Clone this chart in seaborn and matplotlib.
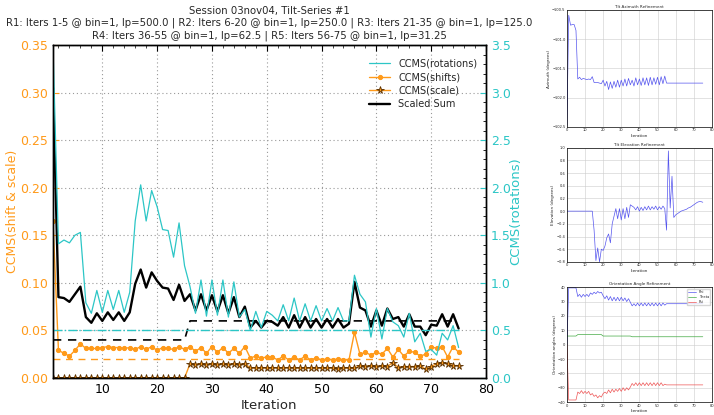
import numpy as np
import pandas as pd
import matplotlib
matplotlib.use("Agg")
import matplotlib.pyplot as plt
import seaborn as sns
from matplotlib.ticker import MultipleLocator

sns.set_style("white")
plt.rcParams['font.family'] = ['DejaVu Sans']
plt.rcParams['xtick.direction'] = 'in'
plt.rcParams['ytick.direction'] = 'in'

# ---- main chart data (iterations 1..75) ----
iterations = list(range(1, 76))

ccms_rot = [3.48, 1.41, 1.45, 1.42, 1.50, 1.53, 0.79, 0.68, 0.92, 0.69,
            0.92, 0.72, 0.92, 0.69, 0.90, 1.65, 2.03, 1.65, 1.97, 1.80,
            1.56, 1.55, 1.27, 1.63, 1.18, 0.96, 0.68, 1.03, 0.65, 1.03,
            0.66, 1.03, 0.64, 1.01, 0.64, 0.72, 0.50, 0.70, 0.53, 0.70,
            0.66, 0.60, 0.77, 0.60, 0.84, 0.60, 0.78, 0.60, 0.76, 0.60,
            0.73, 0.60, 0.74, 0.60, 0.60, 1.08, 0.88, 0.80, 0.43, 0.73,
            0.41, 0.73, 0.59, 0.55, 0.43, 0.68, 0.38, 0.47, 0.28, 0.30,
            0.24, 0.47, 0.40, 0.55, 0.32]

ccms_shift = [0.165, 0.029, 0.026, 0.023, 0.029, 0.036, 0.031, 0.031, 0.031, 0.032,
              0.033, 0.032, 0.032, 0.031, 0.032, 0.030, 0.033, 0.030, 0.033, 0.029,
              0.032, 0.031, 0.030, 0.033, 0.030, 0.033, 0.028, 0.032, 0.026, 0.033,
              0.027, 0.032, 0.026, 0.031, 0.026, 0.033, 0.021, 0.023, 0.021, 0.022,
              0.022, 0.019, 0.023, 0.019, 0.022, 0.019, 0.023, 0.019, 0.021, 0.019,
              0.020, 0.019, 0.020, 0.019, 0.019, 0.048, 0.025, 0.027, 0.024, 0.027,
              0.025, 0.031, 0.022, 0.030, 0.023, 0.028, 0.027, 0.023, 0.025, 0.033,
              0.031, 0.033, 0.022, 0.033, 0.027]

ccms_scale = [0.0] * 25 + [
    0.015, 0.014, 0.015, 0.014, 0.015, 0.014, 0.015, 0.014, 0.015, 0.014,
    0.015, 0.0105, 0.0105, 0.011, 0.0105, 0.011, 0.0105, 0.0105, 0.011, 0.0105,
    0.0105, 0.0105, 0.0105, 0.0105, 0.0105, 0.0105, 0.0105, 0.009, 0.0105, 0.0105,
    0.010, 0.013, 0.012, 0.013, 0.012, 0.013, 0.012, 0.016, 0.011, 0.012,
    0.012, 0.012, 0.013, 0.009, 0.012, 0.015, 0.016, 0.015, 0.013, 0.013]

scaled_sum = [0.305, 0.085, 0.084, 0.080, 0.088, 0.096, 0.064, 0.058, 0.068, 0.060,
              0.069, 0.061, 0.069, 0.060, 0.069, 0.099, 0.114, 0.095, 0.111, 0.102,
              0.095, 0.094, 0.082, 0.098, 0.081, 0.088, 0.071, 0.088, 0.071, 0.087,
              0.070, 0.087, 0.068, 0.085, 0.064, 0.075, 0.053, 0.060, 0.053, 0.060,
              0.059, 0.055, 0.064, 0.053, 0.066, 0.053, 0.064, 0.053, 0.062, 0.053,
              0.062, 0.053, 0.062, 0.053, 0.057, 0.101, 0.074, 0.071, 0.054, 0.071,
              0.055, 0.073, 0.062, 0.064, 0.054, 0.067, 0.054, 0.054, 0.045, 0.056,
              0.055, 0.067, 0.054, 0.067, 0.052]

sum_threshold = [0.04] * 25 + [0.06] * 50
rot_threshold = [0.5] * 75
shift_threshold = [0.02] * 75

title = ("Session 03nov04, Tilt-Series #1\n"
         "R1: Iters 1-5 @ bin=1, lp=500.0 | R2: Iters 6-20 @ bin=1, lp=250.0 | "
         "R3: Iters 21-35 @ bin=1, lp=125.0\n"
         "R4: Iters 36-55 @ bin=1, lp=62.5 | R5: Iters 56-75 @ bin=1, lp=31.25")

# ---- small refinement panels (iterations 0..75) ----
small_iters = list(range(0, 76))

azimuth = ([-102.47, -100.59, -100.76, -100.75, -100.75, -100.85,
            -101.68, -101.65, -101.69, -101.67, -101.68, -101.69, -101.68, -101.69, -101.64,
            -101.74, -101.74, -101.74, -101.75, -101.76,
            -101.70, -101.80, -101.72, -101.86, -101.73, -101.84, -101.72, -101.82, -101.70, -101.82,
            -101.70, -101.80, -101.68, -101.80, -101.67, -101.78, -101.70, -101.80, -101.66, -101.78,
            -101.68, -101.79, -101.66, -101.78, -101.66, -101.79, -101.65, -101.78, -101.66, -101.77,
            -101.65, -101.78, -101.64, -101.76, -101.63]
           + [-101.75] * 21)

elevation = ([0.0] * 15 +
             [-0.30, -0.78, -0.58, -0.80, -0.60, -0.62, -0.55, -0.42, -0.36, -0.50,
              -0.20, -0.08, 0.04, -0.12, 0.04, -0.14, 0.04, -0.12, 0.06, -0.10,
              0.10, 0.08, 0.06, 0.02, 0.07, 0.00, 0.06, 0.01, 0.07, 0.02,
              0.08, 0.02, 0.07, 0.03, 0.08, 0.02, 0.07, 0.03, 0.08, 0.04,
              -0.30, 0.95, 0.05, 0.55, -0.10, -0.06, -0.04, -0.02, 0.00, 0.01,
              0.02, 0.03, 0.05, 0.06, 0.08, 0.10, 0.12, 0.14, 0.15, 0.15, 0.14])

phi = ([0.0, 39.5, 39.5, 39.5, 39.5, 39.5,
        33.5, 35, 33, 35, 33.5, 35, 33.5, 36, 35, 36.5, 35.5, 37, 36, 36.5,
        34, 32, 34, 31, 33.5, 30.5, 33, 30.5, 33, 30.5, 33, 30.5, 32.5, 30, 32, 29.5,
        27, 28.5, 27, 29, 27, 29, 27, 29, 27, 29, 27, 29, 27, 29, 27, 29, 27, 29, 27.5]
       + [28.5] * 21)

theta = [6.0] * 6 + [7.0] * 14 + [6.0] * 16 + [5.5] * 40

psi = ([0.0, -38.5, -38.5, -38.5, -38.5, -38.5,
        -33, -34, -32, -34, -32.5, -34, -32.5, -35, -34, -36, -35, -37, -35.5, -36.5,
        -34, -33, -34, -31.5, -33.5, -31, -33, -31, -32.5, -30.5, -32.5, -30, -32, -30, -31.5, -29.5,
        -27, -28.5, -26.5, -28.5, -26.5, -28.5, -26.5, -28.5, -26.5, -28.5, -26.5, -28.5,
        -26.5, -28.5, -26.5, -28.5, -26.5, -28.5, -27.5]
       + [-28.0] * 21)

ORANGE = '#ff9a1a'
CYAN = '#2cc6c6'

fig = plt.figure(figsize=(7.14, 4.15), dpi=100)
fig.patch.set_facecolor('white')

# ---- main axes ----
ax = fig.add_axes([0.0742, 0.0892, 0.6065, 0.8024])
ax2 = ax.twinx()

sns.lineplot(x=iterations, y=ccms_rot, color=CYAN, lw=0.9, ax=ax2,
             label='CCMS(rotations)', legend=False)
sns.lineplot(x=iterations, y=rot_threshold, color=CYAN, lw=1.0, ax=ax2, legend=False)
ax2.lines[-1].set_linestyle('-.')

sns.lineplot(x=iterations, y=ccms_shift, color=ORANGE, lw=1.0, marker='o',
             markersize=3, markeredgecolor=ORANGE, ax=ax, label='CCMS(shifts)', legend=False)
sns.lineplot(x=iterations, y=ccms_scale, color=ORANGE, lw=1.0, marker='*',
             markersize=5.5, markerfacecolor=ORANGE, markeredgecolor='#5a3000',
             markeredgewidth=0.6, ax=ax, label='CCMS(scale)', legend=False)
sns.lineplot(x=iterations, y=scaled_sum, color='black', lw=1.7, ax=ax,
             label='Scaled Sum', legend=False)
sns.lineplot(x=iterations, y=sum_threshold, color='black', lw=1.2, ax=ax, legend=False)
ax.lines[-1].set_linestyle((0, (5, 4)))
sns.lineplot(x=iterations, y=shift_threshold, color=ORANGE, lw=1.0, ax=ax, legend=False)
ax.lines[-1].set_linestyle((0, (5, 4)))

ax.set_xlim(1, 80)
ax.set_ylim(0, 0.35)
ax2.set_ylim(0, 3.5)
ax.xaxis.set_major_locator(MultipleLocator(10))
ax.xaxis.set_minor_locator(MultipleLocator(2))
ax.yaxis.set_major_locator(MultipleLocator(0.05))
ax2.yaxis.set_major_locator(MultipleLocator(0.5))
ax2.yaxis.set_minor_locator(MultipleLocator(0.1))
ax.yaxis.set_major_formatter(matplotlib.ticker.FormatStrFormatter('%.2f'))
ax2.yaxis.set_major_formatter(matplotlib.ticker.FormatStrFormatter('%.1f'))
ax.grid(True, color='#999999', linestyle=(0, (1, 2.5)), lw=0.8)
ax.tick_params(axis='y', colors=ORANGE, labelsize=9, length=4)
ax.tick_params(axis='x', labelsize=9, length=4, colors='black')
ax.tick_params(axis='x', which='minor', length=2)
ax.tick_params(axis='x', which='both', top=True)
ax2.tick_params(axis='y', colors=CYAN, labelsize=9, length=4)
ax2.tick_params(axis='y', which='minor', length=2, colors='black')
for a in (ax, ax2):
    for s in a.spines.values():
        s.set_color('black')
        s.set_linewidth(1.0)
ax.set_xlabel('Iteration', fontsize=9.5, labelpad=2)
ax.set_ylabel('CCMS(shift & scale)', color=ORANGE, fontsize=9, labelpad=0.5)
ax2.set_ylabel('CCMS(rotations)', color=CYAN, fontsize=9.5, labelpad=-1)
ax.set_title(title, fontsize=7.3, linespacing=1.2, pad=5)

handles = [ax2.lines[0], ax.lines[0], ax.lines[1], ax.lines[2]]
ax.legend(handles=handles, labels=[h.get_label() for h in handles],
          loc='upper right', frameon=False, fontsize=7, handlelength=2.2,
          labelspacing=0.35, bbox_to_anchor=(1.0, 0.985))

# ---- small panels on the right ----
def small_panel(rect, title_txt, ylab):
    a = fig.add_axes(rect)
    a.set_title(title_txt, fontsize=3, pad=1.5)
    a.set_xlabel('Iteration', fontsize=3, labelpad=1)
    a.set_ylabel(ylab, fontsize=3, labelpad=1)
    a.tick_params(labelsize=2.6, length=1.5, width=0.4, pad=1)
    a.grid(True, color='#cccccc', lw=0.4)
    a.set_xlim(0, 80)
    a.xaxis.set_major_locator(MultipleLocator(10))
    for s in a.spines.values():
        s.set_linewidth(0.5)
        s.set_color('black')
    return a

p1 = small_panel([0.794, 0.694, 0.203, 0.282], 'Tilt Azimuth Refinement', 'Azimuth (degrees)')
sns.lineplot(x=small_iters, y=azimuth, color='#5555ee', lw=0.5, ax=p1)
p1.set_ylim(-102.5, -100.5)
p1.yaxis.set_major_locator(MultipleLocator(0.5))

p2 = small_panel([0.794, 0.369, 0.203, 0.275], 'Tilt Elevation Refinement', 'Elevation (degrees)')
sns.lineplot(x=small_iters, y=elevation, color='#5555ee', lw=0.5, ax=p2)
p2.set_ylim(-0.8, 1.0)
p2.yaxis.set_major_locator(MultipleLocator(0.2))

p3 = small_panel([0.794, 0.031, 0.203, 0.277], 'Orientation Angle Refinement',
                 'Orientation angles (degrees)')
sns.lineplot(x=small_iters, y=phi, color='#5555ee', lw=0.5, ax=p3, label='Phi')
sns.lineplot(x=small_iters, y=theta, color='#44aa44', lw=0.5, ax=p3, label='Theta')
sns.lineplot(x=small_iters, y=psi, color='#ee5555', lw=0.5, ax=p3, label='Psi')
p3.set_ylim(-40, 40)
p3.yaxis.set_major_locator(MultipleLocator(10))
p3.legend(loc='upper right', fontsize=2.6, frameon=True, borderpad=0.3,
          handlelength=2, labelspacing=0.3)

fig.savefig('out.png', dpi=100, facecolor='white')
